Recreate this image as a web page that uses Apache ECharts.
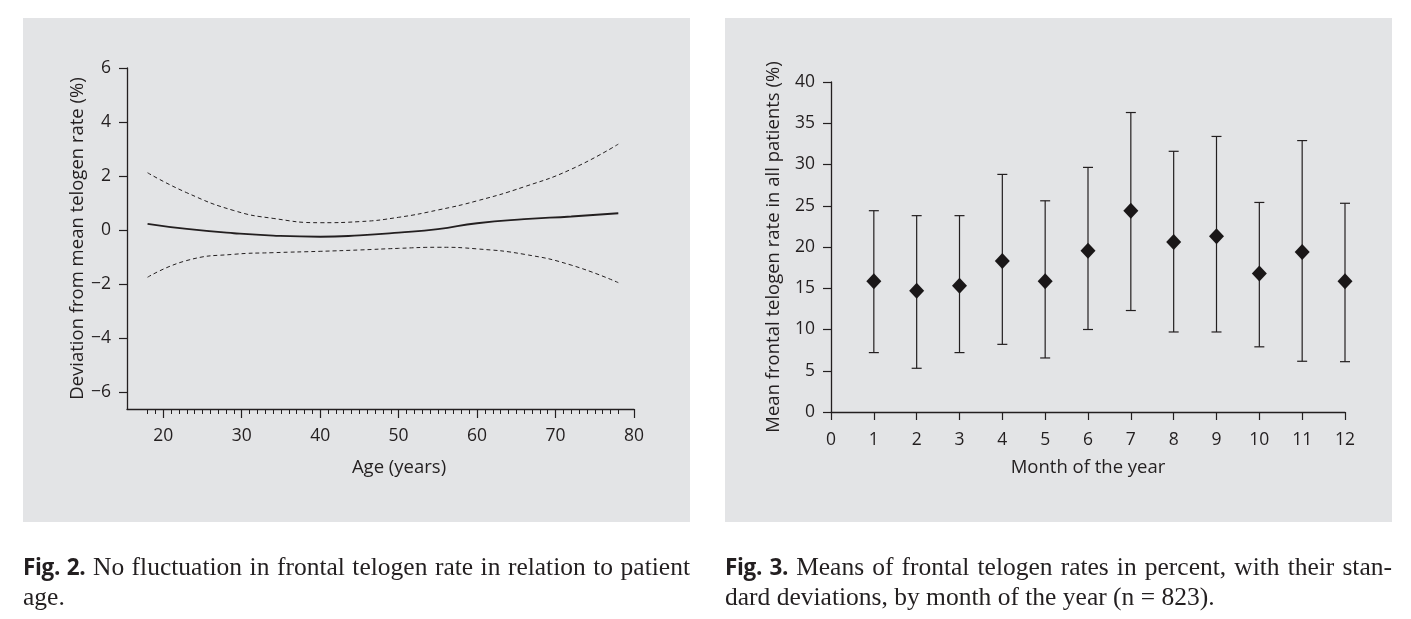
<!DOCTYPE html>
<html>
<head>
<meta charset="utf-8">
<script src="https://cdn.jsdelivr.net/npm/echarts@6/dist/echarts.min.js"></script>
<style>
  html, body { margin:0; padding:0; background:#fff; }
  #chart { position:absolute; left:0; top:0; width:1411px; height:619px; }
  .cap { position:absolute; width:667px; font-family:'Liberation Serif','DejaVu Serif',serif; font-size:25.5px; line-height:30px; color:#231f20; white-space:nowrap; }
  .cap .l1 { text-align:justify; text-align-last:justify; white-space:normal; }
  .cap b { font-family:'Open Sans','Noto Sans',sans-serif; font-weight:700; font-size:22.5px; letter-spacing:-0.3px; }
</style>
</head>
<body>
<div id="chart"></div>
<div class="cap" style="left:23px; top:552px;">
  <div class="l1"><b>Fig. 2.</b> No fluctuation in frontal telogen rate in relation to patient</div>
  <div>age.</div>
</div>
<div class="cap" style="left:725px; top:552px;">
  <div class="l1"><b>Fig. 3.</b> Means of frontal telogen rates in percent, with their stan-</div>
  <div>dard deviations, by month of the year (n = 823).</div>
</div>
<script>
// ---- Fig. 2 data (age vs deviation) ----
const ages = [18, 23, 29, 34, 40, 45, 50, 55, 60, 66, 72, 78];
const deviation = [0.23, 0.04, -0.12, -0.21, -0.25, -0.2, -0.1, 0.03, 0.25, 0.4, 0.5, 0.62];
const upperCI = [2.12, 1.38, 0.72, 0.43, 0.27, 0.31, 0.47, 0.74, 1.08, 1.6, 2.25, 3.18];
const lowerCI = [-1.75, -1.13, -0.9, -0.84, -0.79, -0.74, -0.68, -0.64, -0.7, -0.9, -1.3, -1.95];
const yTicksLeft = [-6, -4, -2, 0, 2, 4, 6];
const xMajorLeft = [20, 30, 40, 50, 60, 70, 80];
const xMinorLeft = [];
for (let a = 18; a <= 78; a++) xMinorLeft.push(a);

// ---- Fig. 3 data (month means with SD) ----
const months = [1, 2, 3, 4, 5, 6, 7, 8, 9, 10, 11, 12];
const meanRate = [15.85, 14.7, 15.3, 18.3, 15.85, 19.55, 24.4, 20.6, 21.3, 16.8, 19.4, 15.85];
const sdUpper = [24.4, 23.8, 23.8, 28.8, 25.6, 29.65, 36.3, 31.6, 33.4, 25.4, 32.9, 25.3];
const sdLower = [7.2, 5.3, 7.2, 8.2, 6.55, 10.0, 12.3, 9.7, 9.7, 7.9, 6.15, 6.1];

const ink = '#231f20';
const font = 'Open Sans';
const chart = echarts.init(document.getElementById('chart'));

const axisCommon = {
  axisLine: { show: true, onZero: false, lineStyle: { color: ink, width: 1.3 } },
  axisTick: { show: true, length: 8, lineStyle: { color: ink, width: 1.2 } },
  axisLabel: { color: ink, fontFamily: font, fontSize: 17.5 },
  splitLine: { show: false },
  nameTextStyle: { color: ink, fontFamily: font, fontSize: 18.5 }
};
const minus = v => String(v).replace('-', '\u2212');

chart.setOption({
  animation: false,
  graphic: [
    { type: 'rect', z: -10, shape: { x: 23, y: 18, width: 667, height: 504 }, style: { fill: '#e3e4e6' } },
    { type: 'rect', z: -10, shape: { x: 725, y: 18, width: 667, height: 504 }, style: { fill: '#e3e4e6' } }
  ],
  grid: [
    { left: 127, right: 1411 - 634, top: 68, bottom: 619 - 409, containLabel: false },
    { left: 831, right: 1411 - 1345, top: 82, bottom: 619 - 412, containLabel: false }
  ],
  xAxis: [
    Object.assign({}, axisCommon, {
      type: 'value', gridIndex: 0, min: 15.38, max: 80,
      axisTick: { show: true, length: 9, customValues: xMajorLeft, lineStyle: { color: ink, width: 1.2 } },
      axisLabel: Object.assign({}, axisCommon.axisLabel, { customValues: xMajorLeft, margin: 18 }),
      name: 'Age (years)', nameLocation: 'middle', nameGap: 49,
      nameTextStyle: Object.assign({}, axisCommon.nameTextStyle, { padding: [0, 0, 0, 37] })
    }),
    {
      type: 'value', gridIndex: 0, min: 15.38, max: 80, position: 'bottom',
      axisLine: { show: false, onZero: false }, splitLine: { show: false }, axisLabel: { show: false },
      axisTick: { show: true, length: 5, customValues: xMinorLeft, lineStyle: { color: ink, width: 1 } }
    },
    Object.assign({}, axisCommon, {
      type: 'value', gridIndex: 1, min: 0, max: 12, interval: 1,
      axisLabel: Object.assign({}, axisCommon.axisLabel, { margin: 19 }),
      name: 'Month of the year', nameLocation: 'middle', nameGap: 46
    })
  ],
  yAxis: [
    Object.assign({}, axisCommon, {
      type: 'value', gridIndex: 0, min: -6.63, max: 6,
      axisTick: { show: true, length: 8, customValues: yTicksLeft, lineStyle: { color: ink, width: 1.2 } },
      axisLabel: Object.assign({}, axisCommon.axisLabel, { customValues: yTicksLeft, margin: 16, formatter: minus }),
      name: 'Deviation from mean telogen rate (%)', nameLocation: 'middle', nameGap: 40
    }),
    Object.assign({}, axisCommon, {
      type: 'value', gridIndex: 1, min: 0, max: 40, interval: 5,
      axisLabel: Object.assign({}, axisCommon.axisLabel, { margin: 16 }),
      name: 'Mean frontal telogen rate in all patients (%)', nameLocation: 'middle', nameGap: 48
    })
  ],
  series: [
    { type: 'line', xAxisIndex: 0, yAxisIndex: 0, smooth: 0.5, symbol: 'none',
      data: ages.map((a, i) => [a, deviation[i]]), lineStyle: { color: ink, width: 1.8 } },
    { type: 'line', xAxisIndex: 0, yAxisIndex: 0, smooth: 0.5, symbol: 'none',
      data: ages.map((a, i) => [a, upperCI[i]]), lineStyle: { color: ink, width: 1, type: [4, 3] } },
    { type: 'line', xAxisIndex: 0, yAxisIndex: 0, smooth: 0.5, symbol: 'none',
      data: ages.map((a, i) => [a, lowerCI[i]]), lineStyle: { color: ink, width: 1, type: [4, 3] } },
    { type: 'custom', xAxisIndex: 2, yAxisIndex: 1,
      data: months.map((m, i) => [m, sdLower[i], sdUpper[i]]),
      renderItem: function (params, api) {
        const lo = api.coord([api.value(0), api.value(1)]);
        const hi = api.coord([api.value(0), api.value(2)]);
        const hw = 5;
        const st = { stroke: ink, lineWidth: 1.2, fill: null };
        return { type: 'group', children: [
          { type: 'line', shape: { x1: lo[0], y1: lo[1], x2: hi[0], y2: hi[1] }, style: st },
          { type: 'line', shape: { x1: lo[0] - hw, y1: lo[1], x2: lo[0] + hw, y2: lo[1] }, style: st },
          { type: 'line', shape: { x1: hi[0] - hw, y1: hi[1], x2: hi[0] + hw, y2: hi[1] }, style: st }
        ] };
      }
    },
    { type: 'scatter', xAxisIndex: 2, yAxisIndex: 1, symbol: 'diamond', symbolSize: [15, 16], z: 5,
      data: months.map((m, i) => [m, meanRate[i]]), itemStyle: { color: '#1a1718', opacity: 1 } }
  ]
});
</script>
</body>
</html>
